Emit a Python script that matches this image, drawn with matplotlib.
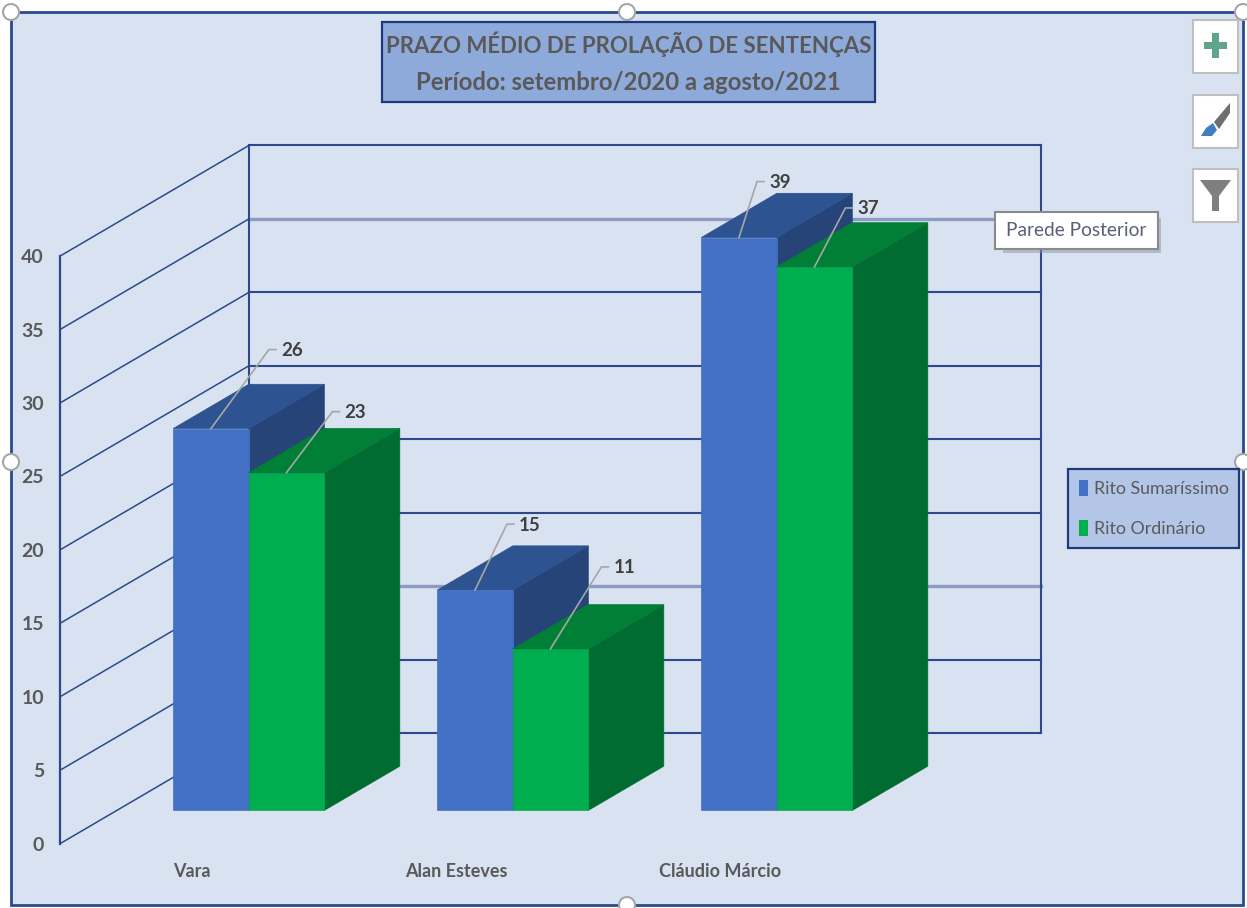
import matplotlib
matplotlib.use("Agg")
import matplotlib.pyplot as plt
from matplotlib.patches import Rectangle, Polygon, Circle, Patch

W, H = 1247, 908

categorias = ["Vara", "Alan Esteves", "Cláudio Márcio"]
series = ["Rito Sumaríssimo", "Rito Ordinário"]
sumarissimo = [26, 15, 39]
ordinario = [23, 11, 37]
yticks = [0, 5, 10, 15, 20, 25, 30, 35, 40]

plt.rcParams['font.family'] = ['Lato', 'DejaVu Sans']

PX_X = 264.0    # pixels por categoria
PX_Y = 14.69    # pixels por unidade
DX = 189 / PX_X
DY = 110.7 / PX_Y
LARG = 75.5 / PX_X

AZUL = ("#4270C4", "#2E5391", "#264478")
VERDE = ("#00AE4F", "#017F37", "#006C31")
NAVY = "#2B4A8C"
TEXTO = "#595959"


def proj(x, y, d):
    return x + d * DX, y + d * DY


def barra(ax, x0, x1, v, cores, z):
    d0, d1 = 0.30, 0.70
    base = 0
    f = [proj(x0, base, d0), proj(x1, base, d0), proj(x1, v, d0), proj(x0, v, d0)]
    s = [proj(x1, base, d0), proj(x1, base, d1), proj(x1, v, d1), proj(x1, v, d0)]
    t = [proj(x0, v, d0), proj(x1, v, d0), proj(x1, v, d1), proj(x0, v, d1)]
    ax.add_patch(Polygon(s, fc=cores[2], ec=cores[2], lw=0.5, zorder=z, clip_on=False))
    ax.add_patch(Polygon(t, fc=cores[1], ec=cores[1], lw=0.5, zorder=z, clip_on=False))
    ax.add_patch(Polygon(f, fc=cores[0], ec=cores[0], lw=0.5, zorder=z + 0.1, clip_on=False))


def rotulo(ax, x, v, val, dx, dy, tam):
    # linha de chamada saindo do topo da barra
    x0, y0 = proj(x, v, 0.30)
    x1, y1 = x0 + dx / PX_X, y0 + dy / PX_Y
    x2 = x1 + tam / PX_X
    ax.plot([x0, x1, x2], [y0, y1, y1], color="#A6A6A6", lw=1.2, zorder=8, clip_on=False)
    ax.text(x2 + 5 / PX_X, y1 - 1 / PX_Y, str(val), color="#404040", fontsize=13.5, fontweight="bold",
            va="center", ha="left", zorder=9, clip_on=False)


fig = plt.figure(figsize=(W / 100, H / 100), dpi=100, facecolor="white")

# fundo e elementos soltos, em pixels
bg = fig.add_axes([0, 0, 1, 1], zorder=0)
bg.set_xlim(0, W)
bg.set_ylim(H, 0)
bg.axis("off")
bg.add_patch(Rectangle((11, 12), 1232, 893, fc="#D9E2F0", ec=NAVY, lw=2))

ax = fig.add_axes([60 / W, (H - 843.7) / H, 792 / W, 587.6 / H], zorder=1)
ax.patch.set_alpha(0)
ax.set_xlim(-0.5, 2.5)
ax.set_ylim(0, 40)

for s in ["top", "right", "bottom"]:
    ax.spines[s].set_visible(False)
ax.spines["left"].set_color(NAVY)
ax.spines["left"].set_linewidth(1.6)
ax.set_yticks(yticks)
ax.set_xticks(range(len(categorias)))
ax.set_xticklabels(categorias)
ax.tick_params(axis="y", length=0, pad=11.5, labelcolor=TEXTO, labelsize=14)
ax.tick_params(axis="x", length=0, pad=14, labelcolor=TEXTO, labelsize=13)
for t in ax.get_yticklabels() + ax.get_xticklabels():
    t.set_fontweight("bold")

# parede do fundo e lateral
for v in yticks:
    forte = v in (10, 35)
    xa, ya = proj(-0.5, v, 1)
    xb, yb = proj(2.5, v, 1)
    ax.plot([xa, xb], [ya, yb], color="#8C9BC2" if forte else NAVY, lw=2.4 if forte else 1.5,
            zorder=1, clip_on=False)
    ax.plot([-0.5, xa], [v, ya], color=NAVY, lw=1.1, zorder=1, clip_on=False)
for x in [-0.5, 2.5]:
    xa, ya = proj(x, 0, 1)
    xb, yb = proj(x, 40, 1)
    ax.plot([xa, xb], [ya, yb], color=NAVY, lw=1.5, zorder=1, clip_on=False)

# barras
for i in range(len(categorias)):
    barra(ax, i - LARG, i, sumarissimo[i], AZUL, 3 + i)
    barra(ax, i, i + LARG, ordinario[i], VERDE, 3.5 + i)

rot_az = [(58, 79, 7), (32, 66, 7), (18, 56, 7)]
rot_vd = [(46, 61, 7), (51, 82, 7), (31, 59, 7)]
for i in range(len(categorias)):
    dx, dy, t = rot_az[i]
    rotulo(ax, i - LARG / 2, sumarissimo[i], sumarissimo[i], dx, dy, t)
    dx, dy, t = rot_vd[i]
    rotulo(ax, i + LARG / 2, ordinario[i], ordinario[i], dx, dy, t)

# por cima de tudo: titulo, botoes, dica
top = fig.add_axes([0, 0, 1, 1], zorder=2)
top.patch.set_alpha(0)
top.set_xlim(0, W)
top.set_ylim(H, 0)
top.axis("off")

top.add_patch(Rectangle((382, 22), 493, 80, fc="#8EAADB", ec="#1F3A7A", lw=1.6))
top.text(628.5, 44, "PRAZO MÉDIO DE PROLAÇÃO DE SENTENÇAS", color=TEXTO, fontsize=16,
         fontweight="bold", ha="center", va="center")
top.text(628.5, 82, "Período: setembro/2020 a agosto/2021", color=TEXTO, fontsize=17.2,
         fontweight="bold", ha="center", va="center")

leg = top.legend(handles=[Patch(fc=AZUL[0], label=series[0]), Patch(fc=VERDE[0], label=series[1])],
                 loc="upper left", bbox_to_anchor=(1068 / W, 1 - 469 / H), borderaxespad=0,
                 fontsize=12.8, labelcolor=TEXTO, frameon=True, fancybox=False, framealpha=1,
                 facecolor="#B4C6E7", edgecolor="#1F3A7A", handlelength=0.55, handleheight=1.0,
                 handletextpad=0.3, labelspacing=1.3, borderpad=0.6)
leg.get_frame().set_linewidth(1.6)

for y in [20, 95, 169]:
    top.add_patch(Rectangle((1193, y), 45, 53, fc="white", ec="#BFBFBF", lw=1.5))
top.add_patch(Rectangle((1204, 42), 23, 7, fc="#5FA58A", ec="none"))
top.add_patch(Rectangle((1212, 33), 7, 25, fc="#5FA58A", ec="none"))
top.add_patch(Polygon([(1201, 136), (1206, 128), (1213, 123), (1217, 130), (1212, 136)], fc="#3F7FBF", ec="none"))
top.add_patch(Polygon([(1214, 122), (1230, 103), (1230, 113), (1219, 129)], fc="#6E6E6E", ec="none"))
top.add_patch(Polygon([(1200, 180), (1231, 180), (1219, 196), (1219, 211), (1212, 211), (1212, 196)],
                      fc="#7F7F7F", ec="none"))

top.add_patch(Rectangle((1003, 218), 158, 35, fc="#8C93A6", ec="none", alpha=0.5))
top.add_patch(Rectangle((995, 212), 163, 37, fc="white", ec="#8A8A8A", lw=1.5))
top.text(1076, 231, "Parede Posterior", color="#5A5F78", fontsize=13.8, ha="center", va="center")

for cx, cy in [(11, 12), (627, 12), (1243, 12), (11, 462), (1243, 462), (627, 905)]:
    top.add_patch(Circle((cx, cy), 8, fc="white", ec="#A6A6A6", lw=1.5, clip_on=True))

fig.savefig("out.png", dpi=100)
